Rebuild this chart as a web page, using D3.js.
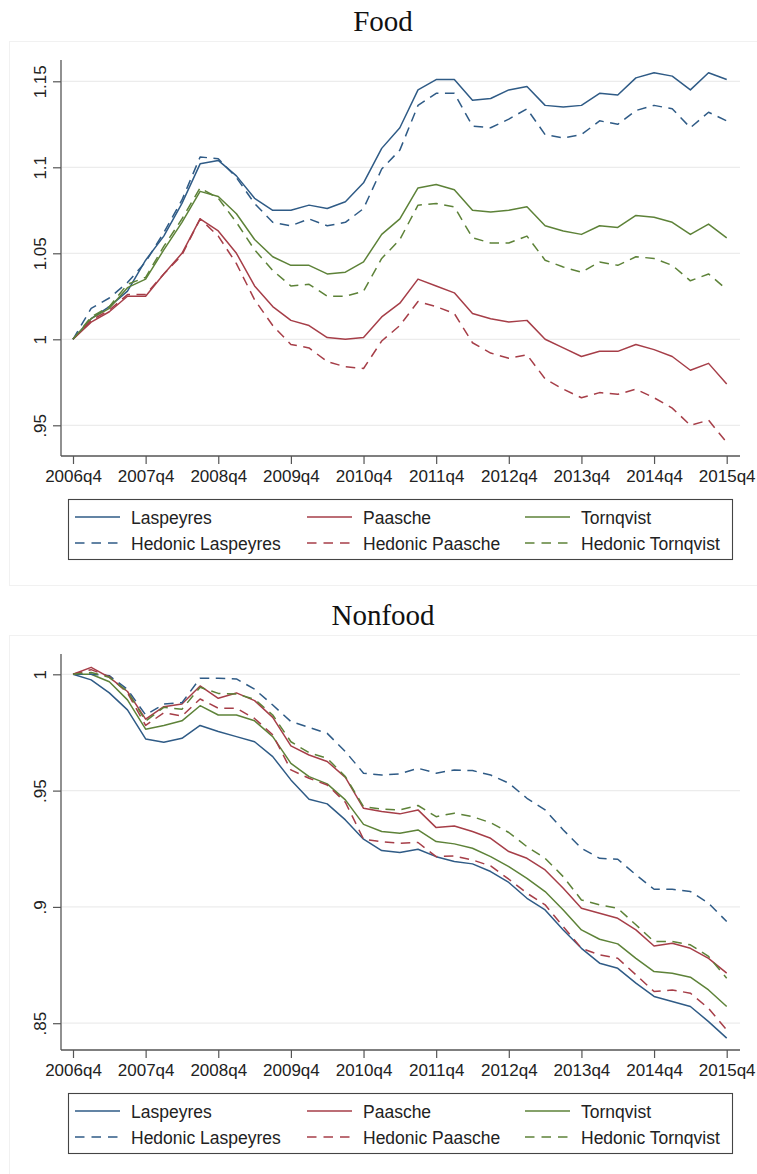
<!DOCTYPE html>
<html>
<head>
<meta charset="utf-8">
<script src="https://cdn.jsdelivr.net/npm/d3@7"></script>
<style>
  html, body { margin: 0; padding: 0; background: #ffffff; }
  svg { display: block; }
</style>
</head>
<body>
<script>
// Quarters 2006q4 .. 2015q4
const quarters = [];
for (let y = 2006; y <= 2015; y++) {
  for (let q = 1; q <= 4; q++) {
    if (y === 2006 && q < 4) continue;
    if (y === 2015 && q > 4) continue;
    quarters.push(y + "q" + q);
  }
}
const xTickLabels = ["2006q4","2007q4","2008q4","2009q4","2010q4","2011q4","2012q4","2013q4","2014q4","2015q4"];

// Food price indexes
const foodLaspeyres = [1.000,1.012,1.019,1.028,1.046,1.060,1.079,1.102,1.104,1.095,1.082,1.075,1.075,1.078,1.076,1.080,1.091,1.111,1.123,1.145,1.151,1.151,1.139,1.140,1.145,1.147,1.136,1.135,1.136,1.143,1.142,1.152,1.155,1.153,1.145,1.155,1.151];
const foodHedLaspeyres = [1.000,1.018,1.024,1.033,1.045,1.062,1.081,1.106,1.105,1.094,1.079,1.068,1.066,1.070,1.066,1.068,1.076,1.099,1.110,1.136,1.143,1.143,1.124,1.123,1.128,1.134,1.119,1.117,1.119,1.127,1.125,1.133,1.136,1.134,1.123,1.132,1.127];
const foodPaasche = [1.000,1.010,1.016,1.025,1.025,1.038,1.050,1.070,1.063,1.050,1.031,1.019,1.011,1.008,1.001,1.000,1.001,1.013,1.021,1.035,1.031,1.027,1.015,1.012,1.010,1.011,1.000,0.995,0.990,0.993,0.993,0.997,0.994,0.990,0.982,0.986,0.974];
const foodHedPaasche = [1.000,1.011,1.017,1.026,1.026,1.038,1.049,1.070,1.060,1.044,1.023,1.008,0.997,0.995,0.987,0.984,0.983,0.999,1.008,1.022,1.019,1.015,0.998,0.992,0.989,0.991,0.977,0.971,0.966,0.969,0.968,0.971,0.966,0.960,0.950,0.953,0.940];
const foodTornqvist = [1.000,1.012,1.018,1.030,1.035,1.052,1.068,1.086,1.083,1.073,1.058,1.048,1.043,1.043,1.038,1.039,1.045,1.061,1.070,1.088,1.090,1.087,1.075,1.074,1.075,1.077,1.066,1.063,1.061,1.066,1.065,1.072,1.071,1.068,1.061,1.067,1.059];
const foodHedTornqvist = [1.000,1.013,1.019,1.032,1.036,1.054,1.070,1.088,1.082,1.068,1.052,1.040,1.031,1.032,1.025,1.025,1.028,1.047,1.058,1.078,1.079,1.077,1.059,1.056,1.056,1.060,1.046,1.042,1.039,1.045,1.043,1.048,1.047,1.043,1.034,1.038,1.029];

// Nonfood price indexes
const nonfoodLaspeyres = [1.000,0.9976,0.992,0.9847,0.9722,0.9708,0.9725,0.978,0.9754,0.9732,0.971,0.9646,0.9546,0.9463,0.9443,0.9374,0.9291,0.9242,0.9234,0.9248,0.9216,0.9195,0.9185,0.9152,0.9105,0.9037,0.8987,0.8901,0.8822,0.8758,0.8736,0.8672,0.8615,0.8593,0.8572,0.8507,0.8436];
const nonfoodHedLaspeyres = [1.000,1.000,0.9994,0.9935,0.9825,0.9872,0.9878,0.9983,0.9983,0.998,0.9936,0.9868,0.9797,0.9772,0.9746,0.9668,0.9575,0.9567,0.9572,0.9596,0.9575,0.9589,0.9586,0.9567,0.9532,0.9467,0.9417,0.9331,0.9252,0.9209,0.9205,0.9138,0.9076,0.9076,0.9066,0.9016,0.8937];
const nonfoodPaasche = [1.000,1.003,0.9987,0.9926,0.9807,0.9861,0.9872,0.995,0.9897,0.992,0.9887,0.9815,0.9692,0.9653,0.9625,0.9557,0.9424,0.941,0.940,0.9417,0.9341,0.9348,0.9324,0.9295,0.9238,0.9209,0.9159,0.908,0.8994,0.8973,0.8951,0.8901,0.8832,0.8844,0.8822,0.8779,0.8715];
const nonfoodHedPaasche = [1.000,1.002,0.9990,0.9920,0.978,0.9835,0.982,0.9894,0.9854,0.9854,0.981,0.974,0.9589,0.9553,0.9524,0.945,0.9291,0.928,0.9274,0.9277,0.9216,0.9219,0.9202,0.9176,0.9119,0.9059,0.9009,0.8915,0.8822,0.8794,0.8779,0.8708,0.8636,0.8643,0.8629,0.8564,0.8471];
const nonfoodTornqvist = [1.000,1.000,0.9968,0.989,0.9764,0.978,0.980,0.9865,0.9825,0.9825,0.980,0.9732,0.9617,0.956,0.9529,0.946,0.9355,0.9324,0.9317,0.9331,0.9281,0.9271,0.9252,0.9216,0.9173,0.9123,0.9066,0.8987,0.8901,0.8861,0.8841,0.8779,0.8722,0.8715,0.8698,0.8643,0.8572];
const nonfoodHedTornqvist = [1.000,1.0008,0.9987,0.9926,0.9799,0.9858,0.985,0.9944,0.9918,0.9915,0.9893,0.9825,0.971,0.9663,0.9639,0.956,0.9431,0.942,0.9417,0.9436,0.9388,0.9403,0.9388,0.9362,0.932,0.9259,0.9209,0.913,0.903,0.9009,0.8994,0.8923,0.8851,0.8851,0.8837,0.8787,0.8693];

const foodTicks = [0.95, 1, 1.05, 1.1, 1.15];
const nonfoodTicks = [0.85, 0.9, 0.95, 1];

const seriesNames = ["Laspeyres","Paasche","Tornqvist","Hedonic Laspeyres","Hedonic Paasche","Hedonic Tornqvist"];

const colors = { L: "#2f5b86", P: "#a63e48", T: "#5d8238" };

const W = 757, H = 1174;
const svg = d3.select("body").append("svg").attr("width", W).attr("height", H)
  .style("font-family", "'Liberation Sans', Arial, sans-serif");

function fmtTick(v) {
  let s = d3.format("")(+v.toFixed(2));
  if (s.startsWith("0.")) s = s.slice(1);
  return s;
}

function drawPanel(offsetY, title, yDomain, yTicks, series) {
  const g = svg.append("g").attr("transform", `translate(0,${offsetY})`);

  // faint graph-region frame
  g.append("rect").attr("x", 9.5).attr("y", 41.5).attr("width", 760).attr("height", 544)
    .attr("fill", "none").attr("stroke", "#f1f1f1").attr("stroke-width", 1);

  g.append("text").attr("x", 383).attr("y", 31).attr("text-anchor", "middle")
    .style("font-family", "'Liberation Serif', 'DejaVu Serif', serif")
    .style("font-size", "29px").attr("fill", "#111").text(title);

  const x = d3.scalePoint().domain(quarters).range([73, 726.7]);
  const y = d3.scaleLinear().domain(yDomain).range([456, 60]);

  // gridlines
  g.append("g").selectAll("line").data(yTicks).join("line")
    .attr("x1", 62).attr("x2", 740)
    .attr("y1", d => y(d)).attr("y2", d => y(d))
    .attr("stroke", "#ececec").attr("stroke-width", 1.2);

  // y axis
  const yAxis = g.append("g").attr("transform", "translate(61,0)")
    .call(d3.axisLeft(y).tickValues(yTicks).tickSize(8).tickPadding(0).tickFormat(fmtTick));
  yAxis.select(".domain").attr("d", "M0,60V456").attr("stroke", "#555").attr("stroke-width", 1.3);
  yAxis.selectAll(".tick line").attr("stroke", "#555").attr("stroke-width", 1.2);
  yAxis.selectAll(".tick text")
    .attr("x", null).attr("dy", null)
    .attr("transform", "translate(-15,0) rotate(-90)")
    .attr("text-anchor", "middle")
    .style("font-size", "17px").attr("fill", "#222");

  // x axis
  const xAxis = g.append("g").attr("transform", "translate(0,456)")
    .call(d3.axisBottom(x).tickValues(xTickLabels).tickSize(8).tickPadding(4));
  xAxis.select(".domain").attr("d", "M61,0H740").attr("stroke", "#555").attr("stroke-width", 1.3);
  xAxis.selectAll(".tick line").attr("stroke", "#555").attr("stroke-width", 1.2);
  xAxis.selectAll(".tick text").attr("dy", null).attr("y", 26)
    .style("font-size", "17px").attr("fill", "#222");

  const line = d3.line().x((d, i) => x(quarters[i])).y(d => y(d));

  g.append("g").selectAll("path").data(series).join("path")
    .attr("d", s => line(s.values))
    .attr("fill", "none")
    .attr("stroke", s => s.color)
    .attr("stroke-width", 1.5)
    .attr("stroke-linejoin", "round")
    .attr("stroke-dasharray", s => s.dashed ? "9.5,6.5" : null);

  // legend
  const lg = g.append("g");
  lg.append("rect").attr("x", 68.5).attr("y", 499.5).attr("width", 664).attr("height", 60)
    .attr("fill", "#fff").attr("stroke", "#444").attr("stroke-width", 1.1);
  const colX = [75, 307, 525];
  const rowY = [517, 543];
  series.forEach((s, i) => {
    const cx = colX[i % 3], ry = rowY[Math.floor(i / 3)];
    lg.append("line").attr("x1", cx).attr("x2", cx + 45).attr("y1", ry).attr("y2", ry)
      .attr("stroke", s.color).attr("stroke-width", 1.5)
      .attr("stroke-dasharray", s.dashed ? "9.5,7" : null);
    lg.append("text").attr("x", cx + 56).attr("y", ry + 6.5)
      .style("font-size", "17.5px").attr("fill", "#222").text(s.name);
  });
}

drawPanel(0, "Food", [0.93215, 1.16238], foodTicks, [
  { name: seriesNames[0], values: foodLaspeyres, color: colors.L, dashed: false },
  { name: seriesNames[1], values: foodPaasche, color: colors.P, dashed: false },
  { name: seriesNames[2], values: foodTornqvist, color: colors.T, dashed: false },
  { name: seriesNames[3], values: foodHedLaspeyres, color: colors.L, dashed: true },
  { name: seriesNames[4], values: foodHedPaasche, color: colors.P, dashed: true },
  { name: seriesNames[5], values: foodHedTornqvist, color: colors.T, dashed: true }
]);

drawPanel(594, "Nonfood", [0.83848, 1.00873], nonfoodTicks, [
  { name: seriesNames[0], values: nonfoodLaspeyres, color: colors.L, dashed: false },
  { name: seriesNames[1], values: nonfoodPaasche, color: colors.P, dashed: false },
  { name: seriesNames[2], values: nonfoodTornqvist, color: colors.T, dashed: false },
  { name: seriesNames[3], values: nonfoodHedLaspeyres, color: colors.L, dashed: true },
  { name: seriesNames[4], values: nonfoodHedPaasche, color: colors.P, dashed: true },
  { name: seriesNames[5], values: nonfoodHedTornqvist, color: colors.T, dashed: true }
]);
</script>
</body>
</html>
